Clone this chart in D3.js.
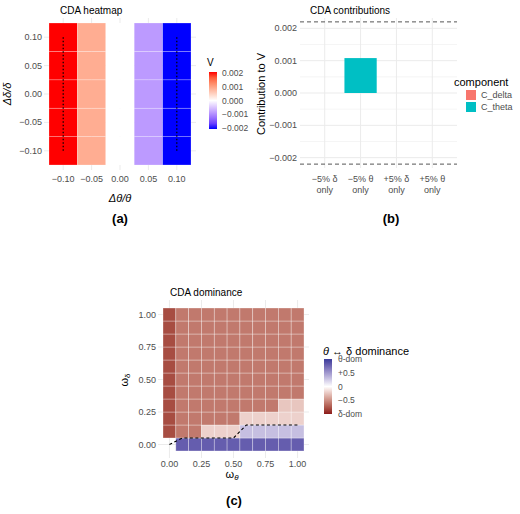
<!DOCTYPE html>
<html><head><meta charset="utf-8">
<script src="https://cdn.jsdelivr.net/npm/d3@7"></script>
<style>body{margin:0;background:#fff}text{font-family:"Liberation Sans",Arial,sans-serif}</style>
</head><body><svg id="c" width="520" height="514"></svg>
<script>
// panel (a) data
const dTheta = [-0.10, -0.05, 0.00, 0.05, 0.10]
const dDelta = [-0.10, -0.05, 0.00, 0.05, 0.10]
const vByTheta = [0.0021, 0.0009, 0.0000, -0.0009, -0.0021]
// panel (b) data
const contribCats = ['-5% δ|only', '-5% θ|only', '+5% δ|only', '+5% θ|only']
const cDelta = [0, 0, 0, 0]
const cTheta = [0, 0.00108, 0, 0]
const bounds = [-0.0022, 0.0022]
// panel (c) data
const omega = [0, 0.1, 0.2, 0.3, 0.4, 0.5, 0.6, 0.7, 0.8, 0.9, 1.0]
const domRows = [ // row index = omega_delta, col = omega_theta
  [null, 0.8, 0.8, 0.8, 0.8, 0.8, 0.8, 0.8, 0.8, 0.8, 0.8],
  [-0.8, -0.6, -0.6, -0.2, -0.2, -0.2, 0.3, 0.3, 0.3, 0.3, 0.3],
  [-0.8, -0.6, -0.6, -0.6, -0.6, -0.6, -0.2, -0.2, -0.2, -0.2, -0.2],
  [-0.8, -0.6, -0.6, -0.6, -0.6, -0.6, -0.6, -0.6, -0.6, -0.25, -0.25],
  [-0.8, -0.6, -0.6, -0.6, -0.6, -0.6, -0.6, -0.6, -0.6, -0.6, -0.6],
  [-0.8, -0.6, -0.6, -0.6, -0.6, -0.6, -0.6, -0.6, -0.6, -0.6, -0.6],
  [-0.8, -0.6, -0.6, -0.6, -0.6, -0.6, -0.6, -0.6, -0.6, -0.6, -0.6],
  [-0.8, -0.6, -0.6, -0.6, -0.6, -0.6, -0.6, -0.6, -0.6, -0.6, -0.6],
  [-0.8, -0.6, -0.6, -0.6, -0.6, -0.6, -0.6, -0.6, -0.6, -0.6, -0.6],
  [-0.8, -0.6, -0.6, -0.6, -0.6, -0.6, -0.6, -0.6, -0.6, -0.6, -0.6],
  [-0.8, -0.6, -0.6, -0.6, -0.6, -0.6, -0.6, -0.6, -0.6, -0.6, -0.6]
]
const boundary = [[0, 0], [0.1, 0.05], [0.5, 0.05], [0.6, 0.15], [1.0, 0.15]]

const svg = d3.select('#c')
const grey = '#4d4d4d', grid = '#ebebeb'

function gridLines(g, x, y, xt, yt, x0, x1, y0, y1) {
  xt.forEach(v => g.append('line').attr('x1', x(v)).attr('x2', x(v)).attr('y1', y0).attr('y2', y1).attr('stroke', grid))
  yt.forEach(v => g.append('line').attr('y1', y(v)).attr('y2', y(v)).attr('x1', x0).attr('x2', x1).attr('stroke', grid))
}
function label(g, x, y, t, o = {}) {
  return g.append('text').attr('x', x).attr('y', y).text(t)
    .attr('font-size', o.size || 9).attr('fill', o.fill || grey)
    .attr('text-anchor', o.anchor || 'middle')
}

// ---------- (a) ----------
{
  const g = svg.append('g')
  const x = d3.scaleLinear().domain([-0.125, 0.125]).range([49, 191])
  const y = d3.scaleLinear().domain([-0.125, 0.125]).range([165, 23])
  const col = d3.scaleLinear().domain([-0.0021, 0, 0.0021]).range(['#0000ff', '#ffffff', '#ff0000']).interpolate(d3.interpolateLab).clamp(true)
  gridLines(g, x, y, dTheta, dDelta, 44, 196, 18, 170)
  dTheta.forEach((t, i) => dDelta.forEach(d => {
    g.append('rect').attr('x', x(t - 0.025)).attr('y', y(d + 0.025))
      .attr('width', x(0.025) - x(-0.025)).attr('height', y(-0.025) - y(0.025))
      .attr('fill', col(vByTheta[i])).attr('stroke', vByTheta[i] === 0 ? 'none' : 'rgba(255,255,255,0.4)').attr('stroke-width', 0.6)
  }))
  ;[-0.1, 0.1].forEach(t => g.append('line').attr('x1', x(t)).attr('x2', x(t)).attr('y1', y(0.1)).attr('y2', y(-0.1))
    .attr('stroke', '#000').attr('stroke-dasharray', '1.5,2').attr('stroke-width', 1.2))
  dTheta.forEach(t => label(g, x(t), 182, d3.format('.2f')(t).replace('-', '−')))
  dDelta.forEach(d => label(g, 42, y(d) + 3, d3.format('.2f')(d).replace('-', '−'), { anchor: 'end' }))
  label(g, 60, 14, 'CDA heatmap', { size: 10, fill: '#000', anchor: 'start' })
  label(g, 120, 202, 'Δθ/θ', { size: 11, fill: '#000' }).attr('font-style', 'italic')
  g.append('text').attr('transform', 'translate(11,94) rotate(-90)').attr('text-anchor', 'middle')
    .attr('font-size', 11).attr('font-style', 'italic').text('Δδ/δ')
  // legend
  label(g, 207, 66, 'V', { size: 10, fill: '#000', anchor: 'start' })
  const lg = svg.append('defs').append('linearGradient').attr('id', 'ga').attr('x1', 0).attr('x2', 0).attr('y1', 0).attr('y2', 1)
  d3.range(0, 1.001, 0.1).forEach(s => lg.append('stop').attr('offset', s).attr('stop-color', col(0.0021 - s * 0.0042)))
  g.append('rect').attr('x', 209).attr('y', 72).attr('width', 8).attr('height', 57).attr('fill', 'url(#ga)')
  const ly = d3.scaleLinear().domain([0.0021, -0.0021]).range([72, 129])
  ;[0.002, 0.001, 0, -0.001, -0.002].forEach(v => label(g, 222, ly(v) + 3, d3.format('.3f')(v).replace('-', '−'), { anchor: 'start', size: 8.5 }))
  label(g, 120, 223, '(a)', { size: 13, fill: '#000' }).attr('font-family', 'Liberation Serif').attr('font-weight', 'bold')
}

// ---------- (b) ----------
{
  const g = svg.append('g')
  const x = d3.scaleBand().domain(contribCats).range([305, 452]).padding(0.1)
  const y = d3.scaleLinear().domain([-0.00232, 0.00232]).range([168, 18])
  const xt = contribCats.map(c => x(c) + x.bandwidth() / 2)
  const yt = [-0.002, -0.001, 0, 0.001, 0.002]
  xt.forEach(v => g.append('line').attr('x1', v).attr('x2', v).attr('y1', 18).attr('y2', 168).attr('stroke', grid))
  d3.range(-0.002, 0.00201, 0.0005).forEach((v, i) => g.append('line').attr('x1', 300).attr('x2', 457).attr('y1', y(v)).attr('y2', y(v)).attr('stroke', grid).attr('stroke-width', i % 2 ? 0.5 : 1))
  contribCats.forEach((c, i) => {
    if (cTheta[i]) g.append('rect').attr('x', x(c)).attr('width', x.bandwidth()).attr('y', y(cTheta[i])).attr('height', y(0) - y(cTheta[i])).attr('fill', '#00bfc4')
    if (cDelta[i]) g.append('rect').attr('x', x(c)).attr('width', x.bandwidth()).attr('y', y(cDelta[i])).attr('height', y(0) - y(cDelta[i])).attr('fill', '#f8766d')
  })
  bounds.forEach(b => g.append('line').attr('x1', 300).attr('x2', 457).attr('y1', y(b)).attr('y2', y(b)).attr('stroke', '#555').attr('stroke-dasharray', '4,3'))
  yt.forEach(v => label(g, 297, y(v) + 3, d3.format('.3f')(v).replace('-', '−'), { anchor: 'end' }))
  contribCats.forEach((c, i) => {
    const p = c.split('|')
    label(g, xt[i], 182, p[0].replace('-', '−'))
    label(g, xt[i], 193, p[1])
  })
  label(g, 310, 14, 'CDA contributions', { size: 10, fill: '#000', anchor: 'start' })
  g.append('text').attr('transform', 'translate(265,94) rotate(-90)').attr('text-anchor', 'middle').attr('font-size', 11).text('Contribution to V')
  label(g, 454, 86, 'component', { size: 11, fill: '#000', anchor: 'start' })
  ;[['#f8766d', 'C_delta'], ['#00bfc4', 'C_theta']].forEach((k, i) => {
    g.append('rect').attr('x', 466).attr('y', 90 + i * 12).attr('width', 10).attr('height', 10).attr('fill', k[0])
    label(g, 481, 98 + i * 12, k[1], { anchor: 'start', size: 9 })
  })
  label(g, 391, 223, '(b)', { size: 13, fill: '#000' }).attr('font-family', 'Liberation Serif').attr('font-weight', 'bold')
}

// ---------- (c) ----------
{
  const g = svg.append('g')
  const x = d3.scaleLinear().domain([-0.05, 1.05]).range([163, 304])
  const y = d3.scaleLinear().domain([-0.05, 1.05]).range([451, 308])
  const col = d3.scaleLinear().domain([-1, 0, 1]).range(['#8b1a1a', '#ffffff', '#3a3a9a']).interpolate(d3.interpolateLab)
  const t = [0, 0.25, 0.5, 0.75, 1]
  gridLines(g, x, y, t, t, 158, 309, 300, 458)
  domRows.forEach((row, r) => row.forEach((v, c) => {
    if (v === null) return
    g.append('rect').attr('x', x(omega[c] - 0.05)).attr('y', y(omega[r] + 0.05))
      .attr('width', x(0.05) - x(-0.05)).attr('height', y(-0.05) - y(0.05))
      .attr('fill', col(v)).attr('stroke', 'rgba(255,255,255,0.45)').attr('stroke-width', 0.7)
  }))
  g.append('path').datum(boundary).attr('d', d3.line().x(d => x(d[0])).y(d => y(d[1])))
    .attr('fill', 'none').attr('stroke', '#000').attr('stroke-dasharray', '3,2.5').attr('stroke-width', 1.1)
  t.forEach(v => label(g, x(v), 467, d3.format('.2f')(v)))
  t.forEach(v => label(g, 156, y(v) + 3, d3.format('.2f')(v), { anchor: 'end' }))
  label(g, 170, 296, 'CDA dominance', { size: 10, fill: '#000', anchor: 'start' })
  label(g, 232, 478, 'ω', { size: 11, fill: '#000' }).append('tspan').attr('font-size', 8).attr('dy', 2).attr('font-style', 'italic').text('θ')
  g.append('text').attr('transform', 'translate(128,380) rotate(-90)').attr('text-anchor', 'middle').attr('font-size', 11)
    .text('ω').append('tspan').attr('font-size', 8).attr('dy', 2).text('δ')
  label(g, 323, 355, '', { size: 11, fill: '#000', anchor: 'start' }).html('<tspan font-style="italic">θ</tspan> ↔ δ  dominance')
  const lg = svg.append('defs').append('linearGradient').attr('id', 'gc').attr('x1', 0).attr('x2', 0).attr('y1', 0).attr('y2', 1)
  d3.range(0, 1.001, 0.1).forEach(s => lg.append('stop').attr('offset', s).attr('stop-color', col(1 - 2 * s)))
  g.append('rect').attr('x', 324).attr('y', 359).attr('width', 8).attr('height', 55).attr('fill', 'url(#gc)')
  const ly = d3.scaleLinear().domain([1, -1]).range([359, 414])
  ;[[1, 'θ-dom'], [0.5, '+0.5'], [0, '0'], [-0.5, '−0.5'], [-1, 'δ-dom']].forEach(d => label(g, 338, ly(d[0]) + 3, d[1], { anchor: 'start', size: 8.5 }))
  label(g, 234, 505, '(c)', { size: 13, fill: '#000' }).attr('font-family', 'Liberation Serif').attr('font-weight', 'bold')
}
</script></body></html>
